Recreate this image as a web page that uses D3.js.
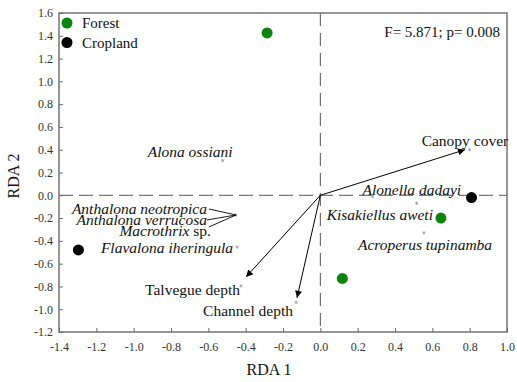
<!DOCTYPE html>
<html>
<head>
<meta charset="utf-8">
<script src="https://cdn.jsdelivr.net/npm/d3@7"></script>
<style>
  body { margin: 0; background: #fff; }
  svg text { font-family: "Liberation Serif", "Times New Roman", serif; }
</style>
</head>
<body>
<svg id="chart" width="517" height="382"></svg>
<script>
// tick values
const xTicks = [-1.4, -1.2, -1.0, -0.8, -0.6, -0.4, -0.2, 0.0, 0.2, 0.4, 0.6, 0.8, 1.0];
const yTicks = [-1.2, -1.0, -0.8, -0.6, -0.4, -0.2, 0.0, 0.2, 0.4, 0.6, 0.8, 1.0, 1.2, 1.4, 1.6];

// site scores
const forestSites = [[-0.285, 1.425], [0.646, -0.2], [0.118, -0.73]];
const croplandSites = [[0.81, -0.02], [-1.296, -0.48]];

// environmental arrows (tips)
const envNames = ['Canopy cover', 'Talvegue depth', 'Channel depth'];
const envX = [0.775, -0.398, -0.125];
const envY = [0.4, -0.717, -0.9];

// species / variable points (small asterisks)
const speciesNames = ['Alona ossiani', 'Anthalona', 'Flavalona iheringula', 'Alonella dadayi',
  'Kisakiellus aweti', 'Acroperus tupinamba', 'Canopy cover', 'Talvegue depth', 'Channel depth'];
const speciesX = [-0.523, -0.452, -0.446, 0.28, 0.516, 0.555, 0.80, -0.425, -0.13];
const speciesY = [0.304, -0.173, -0.454, -0.01, -0.07, -0.33, 0.40, -0.795, -0.94];

const statText = 'F= 5.871; p= 0.008';

const svg = d3.select('#chart');
const margin = { left: 59, right: 10, top: 13, bottom: 50 };
const width = +svg.attr('width');
const height = +svg.attr('height');
const x = d3.scaleLinear().domain([-1.4, 1.0]).range([margin.left, width - margin.right]);
const y = d3.scaleLinear().domain([-1.2, 1.6]).range([height - margin.bottom, margin.top]);
const fmt = (v) => d3.format('.1f')(v).replace('\u2212', '-');
const axisColor = '#6b6b6b';

// zero lines
svg.append('line')
  .attr('x1', x(-1.4)).attr('x2', x(1.0)).attr('y1', y(0)).attr('y2', y(0))
  .attr('stroke', '#555').attr('stroke-width', 1).attr('stroke-dasharray', '14,6');
svg.append('line')
  .attr('x1', x(0)).attr('x2', x(0)).attr('y1', y(1.6)).attr('y2', y(-1.2))
  .attr('stroke', '#555').attr('stroke-width', 1).attr('stroke-dasharray', '13,7');

// axes with inward ticks
const xAxis = d3.axisBottom(x).tickValues(xTicks).tickFormat(fmt).tickSizeInner(-4).tickSizeOuter(0).tickPadding(10);
const yAxis = d3.axisLeft(y).tickValues(yTicks).tickFormat(fmt).tickSizeInner(-4).tickSizeOuter(0).tickPadding(6);

const xg = svg.append('g').attr('transform', `translate(0,${y(-1.2)})`).call(xAxis);
const yg = svg.append('g').attr('transform', `translate(${x(-1.4)},0)`).call(yAxis);
[xg, yg].forEach((g) => {
  g.select('.domain').remove();
  g.selectAll('line').attr('stroke', axisColor);
  g.selectAll('text').attr('font-size', 12).attr('fill', '#333')
    .style('font-family', '"Liberation Serif", serif');
});

// frame
svg.append('rect')
  .attr('x', x(-1.4)).attr('y', y(1.6))
  .attr('width', x(1.0) - x(-1.4)).attr('height', y(-1.2) - y(1.6))
  .attr('fill', 'none').attr('stroke', axisColor).attr('stroke-width', 1.4);

// arrow marker
svg.append('defs').append('marker')
  .attr('id', 'head').attr('viewBox', '0 0 10 10')
  .attr('refX', 10).attr('refY', 5)
  .attr('markerWidth', 10).attr('markerHeight', 7)
  .attr('markerUnits', 'userSpaceOnUse')
  .attr('orient', 'auto')
  .append('path').attr('d', 'M0,0L10,5L0,10Z').attr('fill', '#000');

svg.selectAll('.env')
  .data(envNames)
  .enter()
  .append('line')
  .attr('x1', x(0)).attr('y1', y(0))
  .attr('x2', (d, i) => x(envX[i]))
  .attr('y2', (d, i) => y(envY[i]))
  .attr('stroke', '#000').attr('stroke-width', 1)
  .attr('marker-end', 'url(#head)');

// species asterisks
const star = d3.symbol().type(d3.symbolAsterisk).size(8);
svg.selectAll('.sp')
  .data(speciesNames)
  .enter()
  .append('path')
  .attr('d', star)
  .attr('transform', (d, i) => `translate(${x(speciesX[i])},${y(speciesY[i])})`)
  .attr('stroke', '#999').attr('stroke-width', 0.8).attr('fill', 'none');

// labels placed relative to their point (pixel offsets)
const labelLayout = {
  'Alona ossiani': [{ text: 'Alona ossiani', dx: -75, dy: -4, anchor: 'start', italic: true }],
  'Anthalona': [
    { text: 'Anthalona neotropica', dx: -29, dy: -1, anchor: 'end', italic: true },
    { text: 'Anthalona verrucosa', dx: -29, dy: 10, anchor: 'end', italic: true },
    { text: 'Macrothrix', tail: ' sp.', dx: -25, dy: 21, anchor: 'end', italic: true },
  ],
  'Flavalona iheringula': [{ text: 'Flavalona iheringula', dx: -4, dy: 6, anchor: 'end', italic: true }],
  'Alonella dadayi': [{ text: 'Alonella dadayi', dx: -10, dy: -1, anchor: 'start', italic: true }],
  'Kisakiellus aweti': [{ text: 'Kisakiellus aweti', dx: -90, dy: 17, anchor: 'start', italic: true }],
  'Acroperus tupinamba': [{ text: 'Acroperus tupinamba', dx: -66, dy: 17, anchor: 'start', italic: true }],
  'Canopy cover': [{ text: 'Canopy cover', dx: -48, dy: -4, anchor: 'start', italic: false }],
  'Talvegue depth': [{ text: 'Talvegue depth', dx: -1, dy: 9, anchor: 'end', italic: false }],
  'Channel depth': [{ text: 'Channel depth', dx: -3, dy: 14, anchor: 'end', italic: false }],
};

speciesNames.forEach((name, i) => {
  const px = x(speciesX[i]);
  const py = y(speciesY[i]);
  labelLayout[name].forEach((l) => {
    const t = svg.append('text')
      .attr('x', px + l.dx).attr('y', py + l.dy)
      .attr('text-anchor', l.anchor)
      .attr('font-size', 15.5)
      .attr('fill', '#111');
    t.append('tspan').attr('font-style', l.italic ? 'italic' : 'normal').text(l.text);
    if (l.tail) t.append('tspan').attr('font-style', 'normal').text(l.tail);
  });
});

// leader lines for the three stacked labels
const ai = speciesNames.indexOf('Anthalona');
const ax = x(speciesX[ai]);
const ay = y(speciesY[ai]);
[[-27, -6], [-29, 5], [-27, 12]].forEach((o) => {
  svg.append('line')
    .attr('x1', ax + o[0]).attr('y1', ay + o[1])
    .attr('x2', ax).attr('y2', ay)
    .attr('stroke', '#000').attr('stroke-width', 0.9);
});

// sites
svg.selectAll('.forest')
  .data(forestSites)
  .enter()
  .append('circle')
  .attr('cx', (d) => x(d[0])).attr('cy', (d) => y(d[1]))
  .attr('r', 5.5).attr('fill', '#0a850a');
svg.selectAll('.crop')
  .data(croplandSites)
  .enter()
  .append('circle')
  .attr('cx', (d) => x(d[0])).attr('cy', (d) => y(d[1]))
  .attr('r', 5.5).attr('fill', '#000');

// legend
const legend = [['Forest', '#0a850a'], ['Cropland', '#000']];
legend.forEach((d, i) => {
  svg.append('circle').attr('cx', 67).attr('cy', 23 + i * 19.5).attr('r', 5.5).attr('fill', d[1]);
  svg.append('text').attr('x', 82).attr('y', 28 + i * 19.5)
    .attr('font-size', 15).attr('fill', '#111').text(d[0]);
});

svg.append('text').attr('x', 500).attr('y', 37)
  .attr('text-anchor', 'end').attr('font-size', 15).attr('fill', '#111').text(statText);

// axis titles
svg.append('text').attr('x', 269).attr('y', 375)
  .attr('text-anchor', 'middle').attr('font-size', 16).attr('fill', '#111').text('RDA 1');
svg.append('text')
  .attr('transform', 'translate(19,176) rotate(-90)')
  .attr('text-anchor', 'middle').attr('font-size', 16).attr('fill', '#111').text('RDA 2');
</script>
</body>
</html>
